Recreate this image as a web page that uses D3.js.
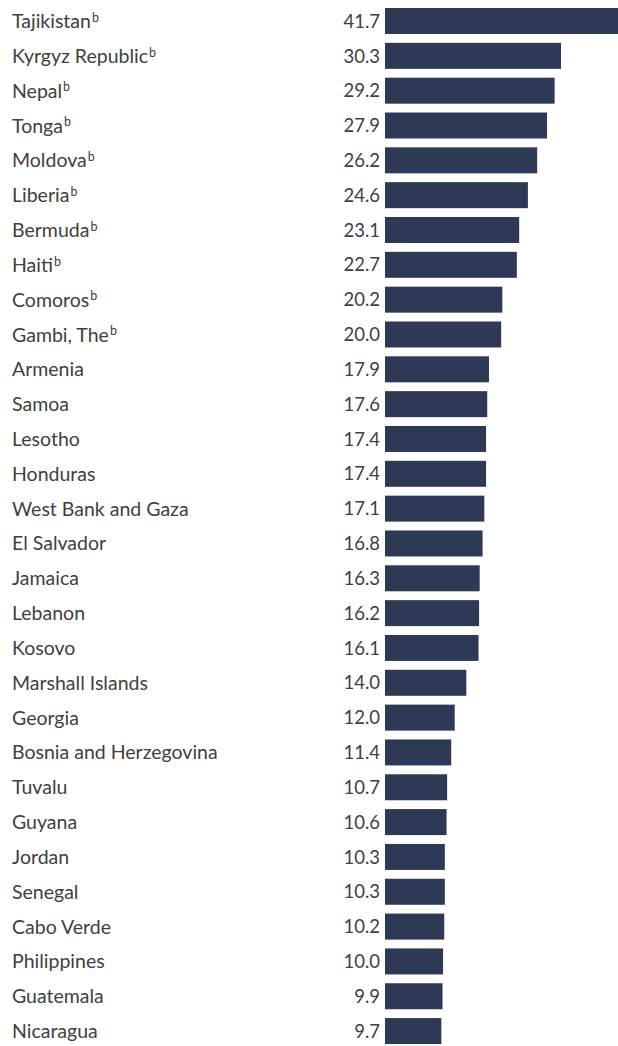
<!DOCTYPE html>
<html lang="en">
<head>
<meta charset="utf-8">
<script src="https://d3js.org/d3.v7.min.js"></script>
<style>
  body { margin: 0; background: #fff; }
  text { font-family: Lato, "Open Sans", sans-serif; fill: #404040; }
</style>
</head>
<body>
<div id="chart"></div>
<script>
// countries, top to bottom
var countries = ["Tajikistan", "Kyrgyz Republic", "Nepal", "Tonga", "Moldova", "Liberia",
  "Bermuda", "Haiti", "Comoros", "Gambi, The", "Armenia", "Samoa", "Lesotho", "Honduras",
  "West Bank and Gaza", "El Salvador", "Jamaica", "Lebanon", "Kosovo", "Marshall Islands",
  "Georgia", "Bosnia and Herzegovina", "Tuvalu", "Guyana", "Jordan", "Senegal",
  "Cabo Verde", "Philippines", "Guatemala", "Nicaragua"];
var values = [41.7, 30.3, 29.2, 27.9, 26.2, 24.6, 23.1, 22.7, 20.2, 20.0, 17.9, 17.6, 17.4,
  17.4, 17.1, 16.8, 16.3, 16.2, 16.1, 14.0, 12.0, 11.4, 10.7, 10.6, 10.3, 10.3, 10.2, 10.0,
  9.9, 9.7];
// footnote marks
var notes = ["b", "b", "b", "b", "b", "b", "b", "b", "b", "b", "", "", "", "", "", "", "",
  "", "", "", "", "", "", "", "", "", "", "", "", ""];

var width = 618, height = 1046;
var barX = 385;

var svg = d3.select("#chart").append("svg")
  .attr("width", width)
  .attr("height", height);

var y = d3.scaleBand()
  .domain(countries)
  .range([3.6, 1048.5])
  .paddingInner(0.2535)
  .paddingOuter(0.1268);

var x = d3.scaleLinear()
  .domain([0, 30.3])
  .range([0, 176]);

var rows = svg.selectAll(".row")
  .data(countries)
  .enter().append("g")
  .attr("class", "row")
  .attr("transform", function(d) { return "translate(0," + y(d) + ")"; });

rows.append("rect")
  .attr("x", barX)
  .attr("y", 0)
  .attr("height", y.bandwidth())
  .attr("width", function(d, i) { return x(values[i]); })
  .attr("fill", "#2e3a55");

rows.append("text")
  .attr("x", barX - 5)
  .attr("y", y.bandwidth() / 2)
  .attr("dy", "0.36em")
  .attr("text-anchor", "end")
  .style("font-size", "18.5px")
  .text(function(d, i) { return values[i].toFixed(1); });

var lab = rows.append("text")
  .attr("x", 12)
  .attr("y", y.bandwidth() / 2)
  .attr("dy", "0.36em")
  .style("font-size", "19.5px");
lab.append("tspan").text(function(d) { return d; });
lab.append("tspan")
  .attr("dy", "-0.5em")
  .attr("dx", "1")
  .style("font-size", "12.5px")
  .text(function(d, i) { return notes[i]; });
</script>
</body>
</html>
